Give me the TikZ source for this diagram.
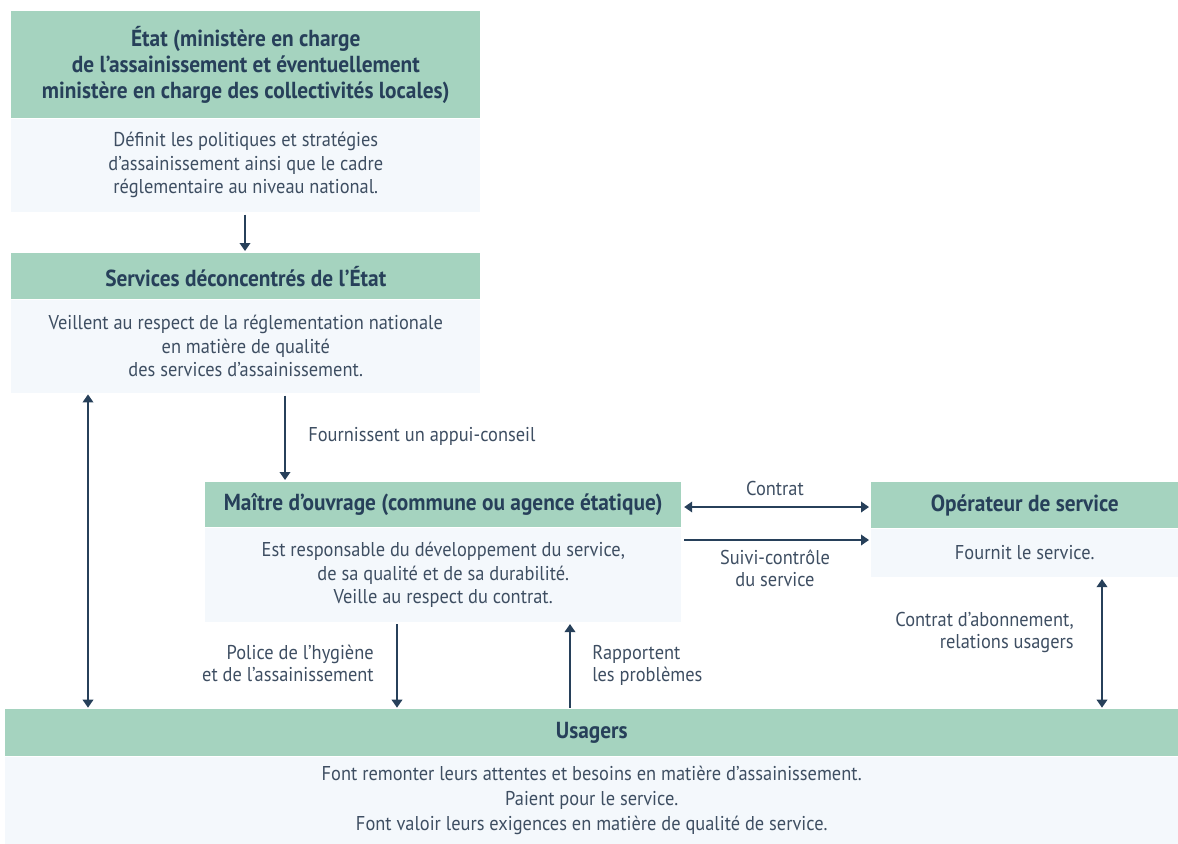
\documentclass[tikz,border=0pt]{standalone}
\usepackage{fontspec}
\setmainfont[FakeStretch=0.92]{PT Sans}
\usetikzlibrary{arrows.meta}
\definecolor{hdr}{HTML}{A5D3BF}
\definecolor{bdy}{HTML}{F4F8FC}
\definecolor{ink}{HTML}{27405A}
\definecolor{txt}{HTML}{3E4E62}
\tikzset{
  hbox/.style={fill=hdr, draw=none, anchor=north west, inner sep=0pt, align=center,
    text=ink, font=\fontsize{17.4}{19.5}\selectfont\bfseries},
  bbox/.style={fill=bdy, draw=none, anchor=north west, inner sep=0pt, align=center,
    text=txt, font=\fontsize{15}{17.6}\selectfont},
  lbl/.style={text=txt, font=\fontsize{15}{16.5}\selectfont, inner sep=0pt},
  arr/.style={draw=ink, line width=1.1pt, -{Triangle[width=8pt,length=6pt]}},
  arrb/.style={draw=ink, line width=1.1pt, {Triangle[width=8pt,length=6pt]}-{Triangle[width=8pt,length=6pt]}},
}
\begin{document}
\begin{tikzpicture}[x=0.75pt,y=-0.75pt]
\useasboundingbox (0,0) rectangle (1178,843);
% Etat
\node[hbox, minimum width=469*0.75pt, minimum height=107*0.75pt] (etatH) at (11,11)
  {État (ministère en charge\\de l'assainissement et éventuellement\\ministère en charge des collectivités locales)};
\node[bbox, minimum width=469*0.75pt, minimum height=93*0.75pt] (etatB) at (etatH.south west)
  {Définit les politiques et stratégies\\d'assainissement ainsi que le cadre\\réglementaire au niveau national.};
% Services
\node[hbox, minimum width=469*0.75pt, minimum height=46*0.75pt] (servH) at (11,253)
  {Services déconcentrés de l'État};
\node[bbox, minimum width=469*0.75pt, minimum height=93*0.75pt] (servB) at (servH.south west)
  {Veillent au respect de la réglementation nationale\\en matière de qualité\\des services d'assainissement.};
% Maitre
\node[hbox, minimum width=476*0.75pt, minimum height=45*0.75pt] (maitH) at (205,482)
  {Maître d'ouvrage (commune ou agence étatique)};
\node[bbox, minimum width=476*0.75pt, minimum height=94*0.75pt] (maitB) at (maitH.south west)
  {Est responsable du développement du service,\\de sa qualité et de sa durabilité.\\Veille au respect du contrat.};
% Operateur
\node[hbox, minimum width=307*0.75pt, minimum height=46*0.75pt] (opH) at (871,482)
  {Opérateur de service};
\node[bbox, minimum width=307*0.75pt, minimum height=48*0.75pt] (opB) at (opH.south west)
  {Fournit le service.};
% Usagers
\node[hbox, minimum width=1173*0.75pt, minimum height=47*0.75pt] (usH) at (5,709)
  {Usagers};
\node[bbox, minimum width=1173*0.75pt, minimum height=87*0.75pt,
  font=\fontsize{15}{18.8}\selectfont] (usB) at (usH.south west)
  {Font remonter leurs attentes et besoins en matière d'assainissement.\\Paient pour le service.\\Font valoir leurs exigences en matière de qualité de service.};
% helper coordinates
\coordinate (xA) at (245,0);
\coordinate (xL) at (88,0);
\coordinate (xF) at (285,0);
\coordinate (xP) at (397,0);
\coordinate (xR) at (570,0);
\coordinate (xO) at (1102,0);
\coordinate (yC) at (0,507);
\coordinate (yS) at (0,540);
% arrows
\draw[arr, shorten <=2pt, shorten >=1.5pt] (etatB.south -| xA) -- (servH.north -| xA);
\draw[arrb, shorten <=1pt, shorten >=1pt] (servB.south -| xL) -- (usH.north -| xL);
\draw[arr, shorten <=2pt, shorten >=1.5pt] (servB.south -| xF) -- (maitH.north -| xF);
\draw[arrb, shorten <=2pt, shorten >=1.5pt] (maitH.east |- yC) -- (opH.west |- yC);
\draw[arr, shorten <=2pt, shorten >=1.5pt] (maitB.east |- yS) -- (opB.west |- yS);
\draw[arrb, shorten <=1.5pt, shorten >=1pt] (opB.south -| xO) -- (usH.north -| xO);
\draw[arr, shorten <=1.5pt, shorten >=1pt] (maitB.south -| xP) -- (usH.north -| xP);
\draw[arr, shorten <=1pt, shorten >=1.5pt] (usH.north -| xR) -- (maitB.south -| xR);
% labels
\node[lbl, anchor=west] (lF) at (308,436) {Fournissent un appui-conseil};
\node[lbl, anchor=center] (lC) at (775,488) {Contrat};
\node[lbl, anchor=north, align=center] (lS) at (775,550) {Suivi-contrôle\\du service};
\node[lbl, anchor=north east, align=right] (lO) at (1074,612) {Contrat d'abonnement,\\relations usagers};
\node[lbl, anchor=north east, align=right] (lP) at (374,645) {Police de l'hygiène\\et de l'assainissement};
\node[lbl, anchor=north west, align=left] (lR) at (592,645) {Rapportent\\les problèmes};
\end{tikzpicture}
\end{document}
